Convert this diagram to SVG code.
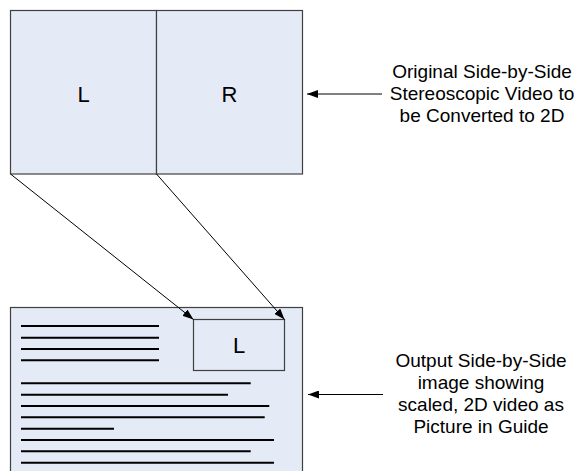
<svg xmlns="http://www.w3.org/2000/svg" width="579" height="471" viewBox="0 0 579 471">
<style>
.box{fill:#e4eaf6;stroke:#404040;stroke-width:1.2}
.lbl{font-family:"Liberation Sans",Arial,sans-serif;font-size:19px;fill:#000;text-anchor:middle}
.big{font-family:"Liberation Sans",Arial,sans-serif;font-size:22px;fill:#000;text-anchor:middle}
.conn{stroke:#000;stroke-width:1;fill:none;marker-end:url(#ah)}
.tl{stroke:#000;stroke-width:2}
</style>
<defs>
<marker id="ah" markerWidth="12" markerHeight="8" refX="11" refY="4" orient="auto" markerUnits="userSpaceOnUse">
<path d="M0,0 L11,4 L0,8 Z" fill="#000"/>
</marker>
</defs>
<g id="source">
<rect class="box" x="10.5" y="10.5" width="146" height="163.5"/>
<rect class="box" x="156.5" y="10.5" width="146" height="163.5"/>
<text class="big" x="83.5" y="102">L</text>
<text class="big" x="229.5" y="102">R</text>
</g>
<g id="output">
<rect class="box" x="10.5" y="307.5" width="292" height="170"/>
<rect x="193.5" y="319.5" width="91" height="51" fill="none" stroke="#404040" stroke-width="1.2"/>
<text class="big" x="239" y="353">L</text>
<g id="textlines">
<line class="tl" x1="21" y1="326" x2="159" y2="326"/>
<line class="tl" x1="21" y1="337.7" x2="159" y2="337.7"/>
<line class="tl" x1="21" y1="349" x2="159" y2="349"/>
<line class="tl" x1="21" y1="360.3" x2="159" y2="360.3"/>
<line class="tl" x1="21" y1="383.3" x2="250.7" y2="383.3"/>
<line class="tl" x1="21" y1="394.7" x2="228" y2="394.7"/>
<line class="tl" x1="21" y1="406" x2="269.3" y2="406"/>
<line class="tl" x1="21" y1="417.3" x2="264.7" y2="417.3"/>
<line class="tl" x1="21" y1="428.7" x2="114" y2="428.7"/>
<line class="tl" x1="21" y1="440" x2="274" y2="440"/>
<line class="tl" x1="21" y1="451.3" x2="250.7" y2="451.3"/>
<line class="tl" x1="21" y1="462.7" x2="274" y2="462.7"/>
</g>
</g>
<g id="label-original">
<text class="lbl" x="482" y="78">Original Side-by-Side</text>
<text class="lbl" x="482" y="100">Stereoscopic Video to</text>
<text class="lbl" x="482" y="122">be Converted to 2D</text>
</g>
<g id="label-output">
<text class="lbl" x="481" y="367">Output Side-by-Side</text>
<text class="lbl" x="481" y="389">image showing</text>
<text class="lbl" x="481" y="411">scaled, 2D video as</text>
<text class="lbl" x="481" y="433">Picture in Guide</text>
</g>
<g id="connectors">
<line class="conn" x1="10.5" y1="174" x2="193.5" y2="319.5"/>
<line class="conn" x1="156.5" y1="174" x2="284.5" y2="319.5"/>
<line class="conn" x1="382" y1="94" x2="307" y2="94"/>
<line class="conn" x1="383" y1="394.5" x2="308" y2="394.5"/>
</g>
</svg>
